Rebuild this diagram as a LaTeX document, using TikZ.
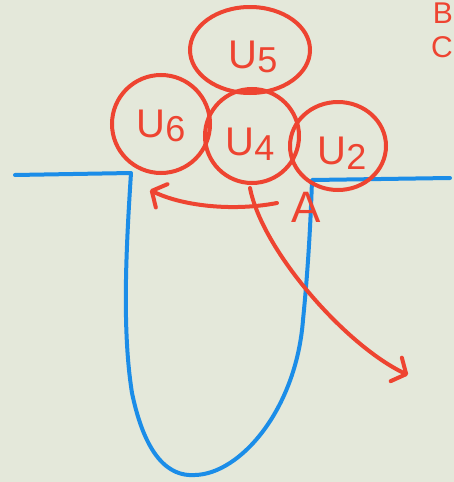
\documentclass[tikz,border=0pt]{standalone}
\usepackage{fontspec}
\setmainfont{Liberation Sans}
\usepackage{tikz}
\usetikzlibrary{shapes.geometric}
\usetikzlibrary{arrows.meta}
\definecolor{board}{HTML}{E4E8DA}
\definecolor{pen}{HTML}{EE4431}
\definecolor{wire}{HTML}{1B8DE8}
\def\thickness{4pt}
\def\lab#1{U\raisebox{-0.12em}{\fontsize{36}{36}\selectfont #1}}
\tikzstyle{blob}=[ellipse, draw=pen, line width=\thickness, inner sep=0pt, text=pen, font=\fontsize{40}{40}\selectfont]
\tikzstyle{wall}=[draw=wire, line width=\thickness, line cap=round, line join=round]
\tikzstyle{move}=[draw=pen, line width=\thickness, line cap=round, -{Straight Barb[length=11pt,width=26pt,round]}]
\tikzstyle{note}=[text=pen, inner sep=0pt, font=\fontsize{40}{40}\selectfont]

\begin{document}
\begin{tikzpicture}[x=1pt, y=-1pt]
\fill[board] (0,0) rectangle (454,482);
\useasboundingbox (0,0) rectangle (454,482);
\draw[wall] (15,175) -- (131,173) .. controls (126,250) and (122,330) .. (132,393)
  .. controls (145,455) and (168,477) .. (195,475)
  .. controls (240,474) and (296,410) .. (303,320)
  .. controls (309,260) and (311,210) .. (312,180) -- (450,178);
\node [blob, minimum width=120pt, minimum height=86pt] (u5) at (250,50) {};
\node [blob, minimum width=98pt, minimum height=98pt] (u6) at (161,124) {};
\node [blob, minimum width=94pt, minimum height=94pt] (u4) at (252,136) {};
\node [blob, minimum width=96pt, minimum height=88pt] (u2) at (338,146) {};
\node [note] at (253,57) {\lab{5}};
\node [note] at (161,126) {\lab{6}};
\node [note] at (250,144) {\lab{4}};
\node [note] at (342,153) {\lab{2}};
\node [note, font=\fontsize{44}{44}\selectfont] (pa) at (306,207) {A};
\node [note, anchor=east, font=\fontsize{30}{30}\selectfont] (nb) at (453,13) {B};
\node [note, anchor=east, font=\fontsize{30}{30}\selectfont] (nc) at (453,47) {C};
\coordinate (s1) at (277,203);
\coordinate (e1) at (150,190);
\coordinate (s2) at (250,188);
\coordinate (e2) at (408,375);
\draw[move] (s1) .. controls (230,212) and (180,205) .. (e1);
\draw[move] (s2) .. controls (262,250) and (345,345) .. (e2);
\end{tikzpicture}
\end{document}
